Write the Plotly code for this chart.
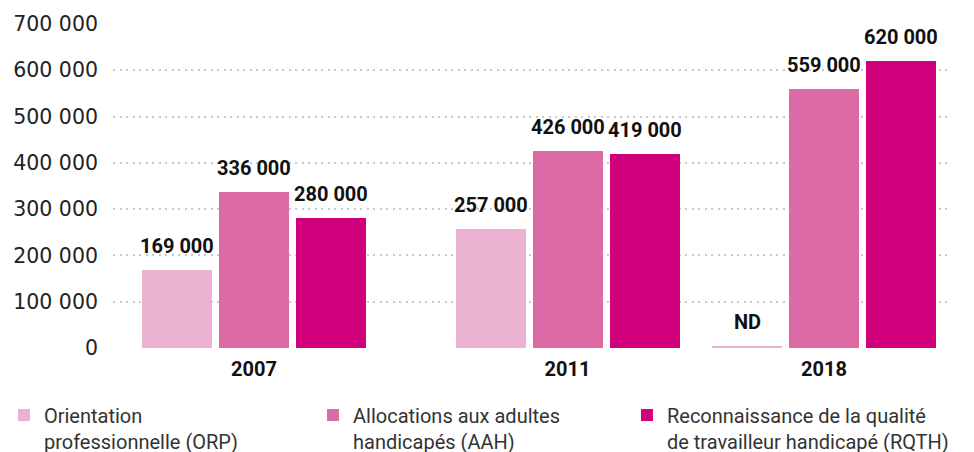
import plotly.graph_objects as go

# ---- data ----
years = ["2007", "2011", "2018"]
orp = [169000, 257000, 4000]          # 2018: ND (not available), drawn as a sliver
aah = [336000, 426000, 559000]
rqth = [280000, 419000, 620000]
orp_labels = ["169 000", "257 000", "ND"]
aah_labels = ["336 000", "426 000", "559 000"]
rqth_labels = ["280 000", "419 000", "620 000"]
series_names = [
    "Orientation<br>professionnelle (ORP)",
    "Allocations aux adultes<br>handicapés (AAH)",
    "Reconnaissance de la qualité<br>de travailleur handicapé (RQTH)",
]
y_tickvals = [0, 100000, 200000, 300000, 400000, 500000, 600000, 700000]
y_ticktext = ["0", "100 000", "200 000", "300 000", "400 000", "500 000", "600 000", "700 000"]

# ---- layout constants (positions / styles) ----
GROUP_CENTERS = [254, 567.5, 824]
BAR_W = 70
OFFSETS = [-112, -35, 42]
COLORS = ["#ebb1d1", "#dc6aa5", "#d3007d"]
LEGEND_IDS = ["legend", "legend2", "legend3"]
LEGEND_X = [-0.130, 0.2384, 0.6126]

fig = go.Figure()
all_vals = [orp, aah, rqth]
all_labels = [orp_labels, aah_labels, rqth_labels]
for i in range(3):
    fig.add_trace(go.Bar(
        x=GROUP_CENTERS, y=all_vals[i], name=series_names[i],
        width=BAR_W, offset=OFFSETS[i],
        marker=dict(color=COLORS[i], line=dict(width=0)),
        hoverinfo="skip", legend=LEGEND_IDS[i],
    ))

annotations = []
for i in range(3):
    for j in range(3):
        annotations.append(dict(
            x=GROUP_CENTERS[j] + OFFSETS[i] + BAR_W / 2, y=all_vals[i][j],
            xref="x", yref="y", text=all_labels[i][j], showarrow=False,
            yanchor="bottom", yshift=10,
            font=dict(family="Roboto", size=20, color="#111111", weight="bold"),
        ))

legend_style = dict(
    orientation="h", xref="paper", yref="paper",
    y=-0.143, xanchor="left", yanchor="top",
    font=dict(family="Roboto", size=20, color="#333333"),
    valign="top", itemclick=False, itemdoubleclick=False,
    bgcolor="rgba(0,0,0,0)",
)

# page body has an 8px margin, so the figure is 8px smaller than the window
fig.update_layout(
    width=966, height=444,
    margin=dict(l=105, r=22, t=15, b=103, autoexpand=False),
    paper_bgcolor="white", plot_bgcolor="white",
    barmode="overlay",
    showlegend=True,
    legend=dict(legend_style, x=LEGEND_X[0]),
    legend2=dict(legend_style, x=LEGEND_X[1]),
    legend3=dict(legend_style, x=LEGEND_X[2]),
    xaxis=dict(
        range=[113, 952], tickvals=GROUP_CENTERS, ticktext=years,
        showgrid=False, zeroline=False, showline=False,
        tickfont=dict(family="Roboto", size=20, color="#111111", weight="bold"),
        ticks="", ticklabelstandoff=6,
    ),
    yaxis=dict(
        range=[-2160, 702160], tickvals=y_tickvals, ticktext=y_ticktext,
        showgrid=True, gridcolor="#c9c9c9", gridwidth=2, griddash="2px,4.5px",
        zeroline=False, showline=False, ticks="",
        tickfont=dict(family="DejaVu Sans", size=20.5, color="#222222"),
        ticklabelstandoff=14,
    ),
    annotations=annotations,
    bargap=0,
)

fig.write_html("out.html")
